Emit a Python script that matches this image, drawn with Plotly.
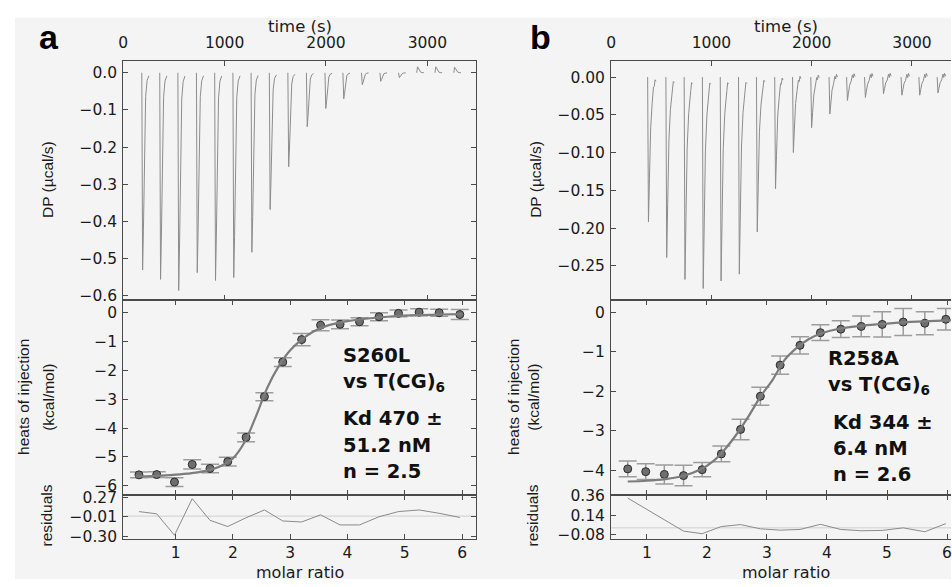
import plotly.graph_objects as go

W, H = 952, 587

# ---------------- data : panel a (S260L vs T(CG)6) ----------------
inj_time_a = [183, 360, 539, 722, 902, 1082, 1261, 1441, 1624, 1807, 1990, 2167, 2350, 2532, 2716, 2895, 3075, 3261]
inj_peak_a = [-0.531, -0.556, -0.586, -0.538, -0.559, -0.551, -0.483, -0.368, -0.253, -0.145,
              -0.096, -0.070, -0.032, -0.023, -0.013, 0.016, 0.016, 0.015]
rec_dt_a = [0, 8, 16, 26, 38, 52, 70]
rec_frac_a = [0.0, 1.0, 0.8, 0.35, 0.12, 0.04, 0.015]
rec_off_a = [0, 0, 0, 0, 0, 0, 0]

ratio_a = [0.36, 0.67, 0.98, 1.29, 1.60, 1.91, 2.23, 2.55, 2.87, 3.20, 3.53, 3.87, 4.21, 4.55, 4.89, 5.25, 5.60, 5.96]
heat_a = [-5.62, -5.61, -5.87, -5.26, -5.40, -5.16, -4.32, -2.91, -1.71, -0.93, -0.43, -0.40, -0.31, -0.14, -0.02, 0.02, 0.00, -0.06]
err_a = [0.10, 0.10, 0.15, 0.16, 0.15, 0.15, 0.15, 0.14, 0.15, 0.21, 0.19, 0.15, 0.14, 0.14, 0.12, 0.12, 0.12, 0.17]
fit_x_a = [0.30, 0.60, 0.90, 1.20, 1.50, 1.80, 2.00, 2.20, 2.40, 2.60, 2.80, 3.00, 3.20, 3.40, 3.60, 3.80, 4.00, 4.40, 4.80, 5.20, 5.60, 6.00]
fit_y_a = [-5.67, -5.66, -5.63, -5.58, -5.49, -5.30, -5.05, -4.50, -3.60, -2.60, -1.85, -1.30, -0.93, -0.66, -0.48, -0.37, -0.29, -0.19, -0.12, -0.08, -0.06, -0.05]
resid_a = [0.065, 0.032, -0.275, 0.25, -0.061, -0.15, -0.024, 0.088, -0.07, -0.085, 0.018, -0.127, -0.127, -0.01, 0.065, 0.088, 0.04, -0.02]

# ---------------- data : panel b (R258A vs T(CG)6) ----------------
inj_time_b = [364, 546, 728, 910, 1088, 1270, 1449, 1631, 1809, 1991, 2173, 2348, 2527, 2708, 2891, 3069, 3251]
inj_peak_b = [-0.192, -0.239, -0.268, -0.280, -0.270, -0.261, -0.205, -0.148, -0.100, -0.067,
              -0.049, -0.031, -0.027, -0.022, -0.024, -0.024, -0.021]
rec_dt_b = [0, 8, 18, 30, 45, 58, 66, 74, 84]
rec_frac_b = [0.0, 1.0, 0.7, 0.35, 0.18, 0.10, 0.07, 0.05, 0.04]
rec_off_b = [0, 0, 0, 0, 0, 0.006, 0.001, 0.006, 0.002]

ratio_b = [0.68, 0.98, 1.29, 1.61, 1.92, 2.24, 2.56, 2.89, 3.22, 3.55, 3.89, 4.23, 4.57, 4.92, 5.27, 5.63, 5.98]
heat_b = [-3.97, -4.04, -4.11, -4.14, -3.99, -3.59, -2.97, -2.13, -1.34, -0.84, -0.52, -0.43, -0.36, -0.31, -0.25, -0.28, -0.18]
err_b = [0.20, 0.20, 0.24, 0.26, 0.18, 0.20, 0.26, 0.23, 0.23, 0.22, 0.20, 0.21, 0.26, 0.32, 0.34, 0.29, 0.27]
fit_x_b = [0.68, 1.0, 1.3, 1.6, 1.9, 2.1, 2.3, 2.5, 2.7, 2.9, 3.1, 3.3, 3.5, 3.7, 3.9, 4.2, 4.6, 5.0, 5.5, 6.0, 6.1]
fit_y_b = [-4.29, -4.27, -4.23, -4.15, -3.98, -3.78, -3.47, -3.08, -2.62, -2.12, -1.70, -1.20, -0.90, -0.68, -0.54, -0.42, -0.34, -0.29, -0.24, -0.21, -0.20]
resid_b = [0.337, 0.216, 0.088, -0.037, -0.066, 0.015, 0.037, -0.011, -0.026, -0.018, 0.04, -0.018, -0.033, -0.029, 0.0, -0.044, 0.048]

# ---------------- tick labels ----------------
time_ticks = [0, 1000, 2000, 3000]
ratio_ticks = [1, 2, 3, 4, 5, 6]
dp_ticks_a = [0.0, -0.1, -0.2, -0.3, -0.4, -0.5, -0.6]
dp_ticks_b = [0.0, -0.05, -0.10, -0.15, -0.20, -0.25]
heat_ticks_a = [0, -1, -2, -3, -4, -5, -6]
heat_ticks_b = [0, -1, -2, -3, -4]
res_ticks_a = [0.27, -0.01, -0.30]
res_text_a = ["0.27", "\u22120.01", "\u22120.30"]
res_ticks_b = [0.36, 0.14, -0.08]
res_text_b = ["0.36", "0.14", "\u22120.08"]


def thermogram(times, peaks, dts, fracs, offs):
    xs, ys = [], []
    for t, p in zip(times, peaks):
        for dt, f, o in zip(dts, fracs, offs):
            xs.append(t + dt)
            ys.append(p * f + o)
        xs.append(None)
        ys.append(None)
    return xs, ys


def px(x):
    return x / W


def py(y):
    return 1 - y / H


LC = "#4a4a4a"
TRACE_C = "#8c8c8c"
TICKFONT = dict(family="DejaVu Sans", size=15.5, color="#1a1a1a")


def ax(**kw):
    base = dict(showline=True, linecolor=LC, linewidth=1.2, ticks="inside", ticklen=5,
                tickwidth=1.2, tickcolor=LC, mirror="allticks", showgrid=False,
                zeroline=False, tickfont=TICKFONT, ticklabeloverflow="allow")
    base.update(kw)
    return base


fig = go.Figure()

panels = [
    dict(times=inj_time_a, peaks=inj_peak_a, dts=rec_dt_a, fracs=rec_frac_a, offs=rec_off_a,
         ratio=ratio_a, heat=heat_a, err=err_a, fx=fit_x_a, fy=fit_y_a, res=resid_a, ax=("", "2", "3")),
    dict(times=inj_time_b, peaks=inj_peak_b, dts=rec_dt_b, fracs=rec_frac_b, offs=rec_off_b,
         ratio=ratio_b, heat=heat_b, err=err_b, fx=fit_x_b, fy=fit_y_b, res=resid_b, ax=("4", "5", "6")),
]

for p in panels:
    a1, a2, a3 = p["ax"]
    tx, ty = thermogram(p["times"], p["peaks"], p["dts"], p["fracs"], p["offs"])
    fig.add_trace(go.Scatter(x=tx, y=ty, mode="lines", line=dict(color=TRACE_C, width=1),
                             xaxis="x" + a1, yaxis="y" + a1, showlegend=False, hoverinfo="skip"))
    fig.add_trace(go.Scatter(x=p["ratio"], y=p["heat"], mode="markers",
                             error_y=dict(type="data", array=p["err"], color="#9c9c9c", thickness=1.5, width=9),
                             marker=dict(size=8, color="#6e6e6e", line=dict(color="#2c2c2c", width=1)),
                             xaxis="x" + a2, yaxis="y" + a2, showlegend=False))
    fig.add_trace(go.Scatter(x=p["fx"], y=p["fy"], mode="lines", line=dict(color="#7c7c7c", width=2.2, shape="spline"),
                             xaxis="x" + a2, yaxis="y" + a2, showlegend=False))
    fig.add_trace(go.Scatter(x=p["ratio"], y=p["res"], mode="lines", line=dict(color="#8a8a8a", width=1),
                             xaxis="x" + a3, yaxis="y" + a3, showlegend=False))

# domains (pixels -> paper)
xa = [px(119), px(474)]
xb = [px(610), 1.0]
y_top = [py(300), py(54)]
y_mid = [py(501), py(300)]
y_res = [py(545.5), py(501)]

layout = dict(
    width=W, height=H, margin=dict(l=0, r=0, t=0, b=0), autosize=False,
    paper_bgcolor="white", plot_bgcolor="rgba(0,0,0,0)",
    font=dict(family="DejaVu Sans", color="#1a1a1a"),
    # panel a
    xaxis=ax(domain=xa, anchor="y", side="top", range=[0, 3480], tickvals=time_ticks, ticklabelstandoff=5),
    yaxis=ax(domain=y_top, anchor="x", range=[-0.611, 0.033], tickvals=dp_ticks_a, tickformat=".1f", ticklabelstandoff=2),
    xaxis2=ax(domain=xa, anchor="y2", range=[0.086, 6.243], tickvals=ratio_ticks, showticklabels=False),
    yaxis2=ax(domain=y_mid, anchor="x2", range=[-6.33, 0.449], tickvals=heat_ticks_a, ticklabelstandoff=2),
    xaxis3=ax(domain=xa, anchor="y3", range=[0.086, 6.243], tickvals=ratio_ticks, ticklabelstandoff=0),
    yaxis3=ax(domain=y_res, anchor="x3", range=[-0.324, 0.298], tickvals=res_ticks_a, ticktext=res_text_a, ticklabelstandoff=2),
    # panel b
    xaxis4=ax(domain=xb, anchor="y4", side="top", range=[0, 3389], tickvals=time_ticks, ticklabelstandoff=5),
    yaxis4=ax(domain=y_top, anchor="x4", range=[-0.295, 0.0219], tickvals=dp_ticks_b, tickformat=".2f", mirror=False, ticklabelstandoff=2),
    xaxis5=ax(domain=xb, anchor="y5", range=[0.404, 6.066], tickvals=ratio_ticks, showticklabels=False),
    yaxis5=ax(domain=y_mid, anchor="x5", range=[-4.64, 0.313], tickvals=heat_ticks_b, mirror=False, ticklabelstandoff=2),
    xaxis6=ax(domain=xb, anchor="y6", range=[0.404, 6.066], tickvals=ratio_ticks, ticklabelstandoff=0),
    yaxis6=ax(domain=y_res, anchor="x6", range=[-0.122, 0.368], tickvals=res_ticks_b, ticktext=res_text_b, mirror=False, ticklabelstandoff=2),
)
fig.update_layout(**layout)

# background and residual zero lines
shapes = [
    dict(type="rect", xref="paper", yref="paper", x0=px(10), x1=1.0, y0=0, y1=py(10),
         fillcolor="#f4f4f4", line=dict(width=0), layer="below"),
    dict(type="line", xref="x3 domain", yref="y3", x0=0, x1=1, y0=0, y1=0,
         line=dict(color="#cfcfcf", width=1), layer="below"),
    dict(type="line", xref="x6 domain", yref="y6", x0=0, x1=1, y0=0, y1=0,
         line=dict(color="#cfcfcf", width=1), layer="below"),
]
fig.update_layout(shapes=shapes)

ann = []


def text(s, x, y, size, family="DejaVu Sans", angle=0, xanchor="center", bold=False, color="#1a1a1a"):
    ann.append(dict(text=("<b>%s</b>" % s) if bold else s, x=px(x), y=py(y), xref="paper", yref="paper",
                    xanchor=xanchor, yanchor="middle", showarrow=False, textangle=angle,
                    font=dict(family=family, size=size, color=color)))


# panel letters
text("a", 44, 30, 34, family="Liberation Sans", bold=True, color="#000000")
text("b", 539, 30, 34, family="Liberation Sans", bold=True, color="#000000")

for cx, dpx, h1x, h2x, rx in [(297, 42, 18, 43, 42), (786, 534, 511, 531, 531)]:
    text("time (s)", cx, 19, 16.5)
    text("molar ratio", cx, 580, 16)
    text("DP (\u00b5cal/s)", dpx, 176, 15.5, family="Liberation Sans", angle=-90)
    text("heats of injection", h1x, 400, 15.5, family="Liberation Sans", angle=-90)
    text("(kcal/mol)", h2x, 400, 15.5, family="Liberation Sans", angle=-90)
    text("residuals", rx, 522, 15.5, family="Liberation Sans", angle=-90)

# in-plot labels
lab_a = ["S260L", "vs T(CG)<sub>6</sub>", "Kd 470 \u00b1", "51.2 nM", "n = 2.5"]
lab_b = ["R258A", "vs T(CG)<sub>6</sub>", "Kd 344 \u00b1", "6.4 nM", "n = 2.6"]
for s, x, y in zip(lab_a, [338, 338, 338, 338, 338], [357, 385, 422, 450, 477]):
    text(s, x, y, 19.5, family="DejaVu Sans", bold=True, xanchor="left", color="#111111")
for s, x, y in zip(lab_b, [826, 826, 831, 831, 831], [360, 388, 426, 453, 480]):
    text(s, x, y, 19.5, family="DejaVu Sans", bold=True, xanchor="left", color="#111111")

fig.update_layout(annotations=ann)

fig.write_html("out.html", config={"displayModeBar": False},
               post_script="document.body.style.margin='0px';document.body.style.overflow='hidden';")
